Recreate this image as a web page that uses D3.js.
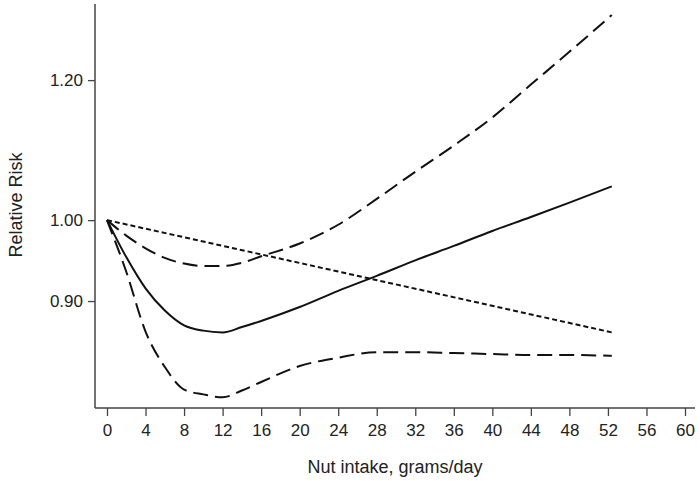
<!DOCTYPE html>
<html>
<head>
<meta charset="utf-8">
<script src="https://cdn.jsdelivr.net/npm/d3@7"></script>
<style>
  body { margin: 0; background: #fff; }
  text { font-family: 'Liberation Sans', Arial, sans-serif; fill: #222; }
</style>
</head>
<body>
<div id="chart"></div>
<script>
// nut intake (g/day) and relative risk curves
const intake = [0, 2, 4, 6, 8, 10, 12, 14, 16, 20, 24, 28, 32, 36, 40, 44, 48, 52.4]
const rrEstimate = [1.0, 0.953, 0.915, 0.889, 0.872, 0.866, 0.864, 0.870, 0.877, 0.893, 0.912, 0.930, 0.949, 0.967, 0.986, 1.004, 1.023, 1.045]
const rrUpper = [1.0, 0.980, 0.964, 0.952, 0.945, 0.942, 0.942, 0.946, 0.954, 0.970, 0.994, 1.028, 1.065, 1.102, 1.143, 1.193, 1.245, 1.306]
const rrLower = [1.0, 0.935, 0.865, 0.826, 0.802, 0.797, 0.794, 0.801, 0.810, 0.827, 0.836, 0.842, 0.842, 0.841, 0.840, 0.839, 0.839, 0.838]
const linearIntake = [0, 52.4]
const rrLinear = [1.0, 0.864]

const xTicks = d3.range(0, 61, 4)
const yTicks = [0.9, 1.0, 1.2]

const width = 700
const height = 481

const svg = d3
  .select('#chart')
  .append('svg')
  .attr('width', width)
  .attr('height', height)

const xPositionScale = d3.scaleLinear().domain([0, 60]).range([107, 685])
const yPositionScale = d3.scaleLog().domain([0.783, 1.325]).range([408, 4])

// axis lines
svg
  .append('line')
  .attr('x1', 95)
  .attr('x2', 95)
  .attr('y1', 4)
  .attr('y2', 408)
  .attr('stroke', '#444')
  .attr('stroke-width', 1.5)
svg
  .append('line')
  .attr('x1', 95)
  .attr('x2', 695)
  .attr('y1', 408)
  .attr('y2', 408)
  .attr('stroke', '#444')
  .attr('stroke-width', 1.5)

const xAxis = d3
  .axisBottom(xPositionScale)
  .tickValues(xTicks)
  .tickSize(8)
  .tickPadding(8)
  .tickFormat(d3.format('d'))
svg
  .append('g')
  .attr('class', 'axis x-axis')
  .attr('transform', 'translate(0,408)')
  .call(xAxis)

const yAxis = d3
  .axisLeft(yPositionScale)
  .tickValues(yTicks)
  .tickSize(7)
  .tickPadding(5)
  .tickFormat(d3.format('.2f'))
svg
  .append('g')
  .attr('class', 'axis y-axis')
  .attr('transform', 'translate(95,0)')
  .call(yAxis)

svg.selectAll('.axis .domain').remove()
svg.selectAll('.axis .tick line').attr('stroke', '#444').attr('stroke-width', 1.3)
svg
  .selectAll('.axis .tick text')
  .attr('font-size', 17)
  .attr('font-family', "'Liberation Sans', Arial, sans-serif")
  .attr('fill', '#222')

const line = d3
  .line()
  .curve(d3.curveMonotoneX)
  .x(d => xPositionScale(d[0]))
  .y(d => yPositionScale(d[1]))

const series = [
  { x: intake, y: rrUpper, dash: '15,7', w: 2 },
  { x: intake, y: rrLower, dash: '15,7', w: 2 },
  { x: linearIntake, y: rrLinear, dash: '5,3', w: 2 },
  { x: intake, y: rrEstimate, dash: null, w: 2 }
]

svg
  .selectAll('.curve')
  .data(series)
  .enter()
  .append('path')
  .attr('class', 'curve')
  .attr('fill', 'none')
  .attr('stroke', '#111')
  .attr('stroke-width', d => d.w)
  .attr('stroke-dasharray', d => d.dash)
  .attr('d', d => line(d.x.map((v, i) => [v, d.y[i]])))

svg
  .append('text')
  .attr('x', 395)
  .attr('y', 473)
  .attr('text-anchor', 'middle')
  .attr('font-size', 18)
  .text('Nut intake, grams/day')

svg
  .append('text')
  .attr('transform', 'translate(22,205) rotate(-90)')
  .attr('text-anchor', 'middle')
  .attr('font-size', 18)
  .text('Relative Risk')
</script>
</body>
</html>
